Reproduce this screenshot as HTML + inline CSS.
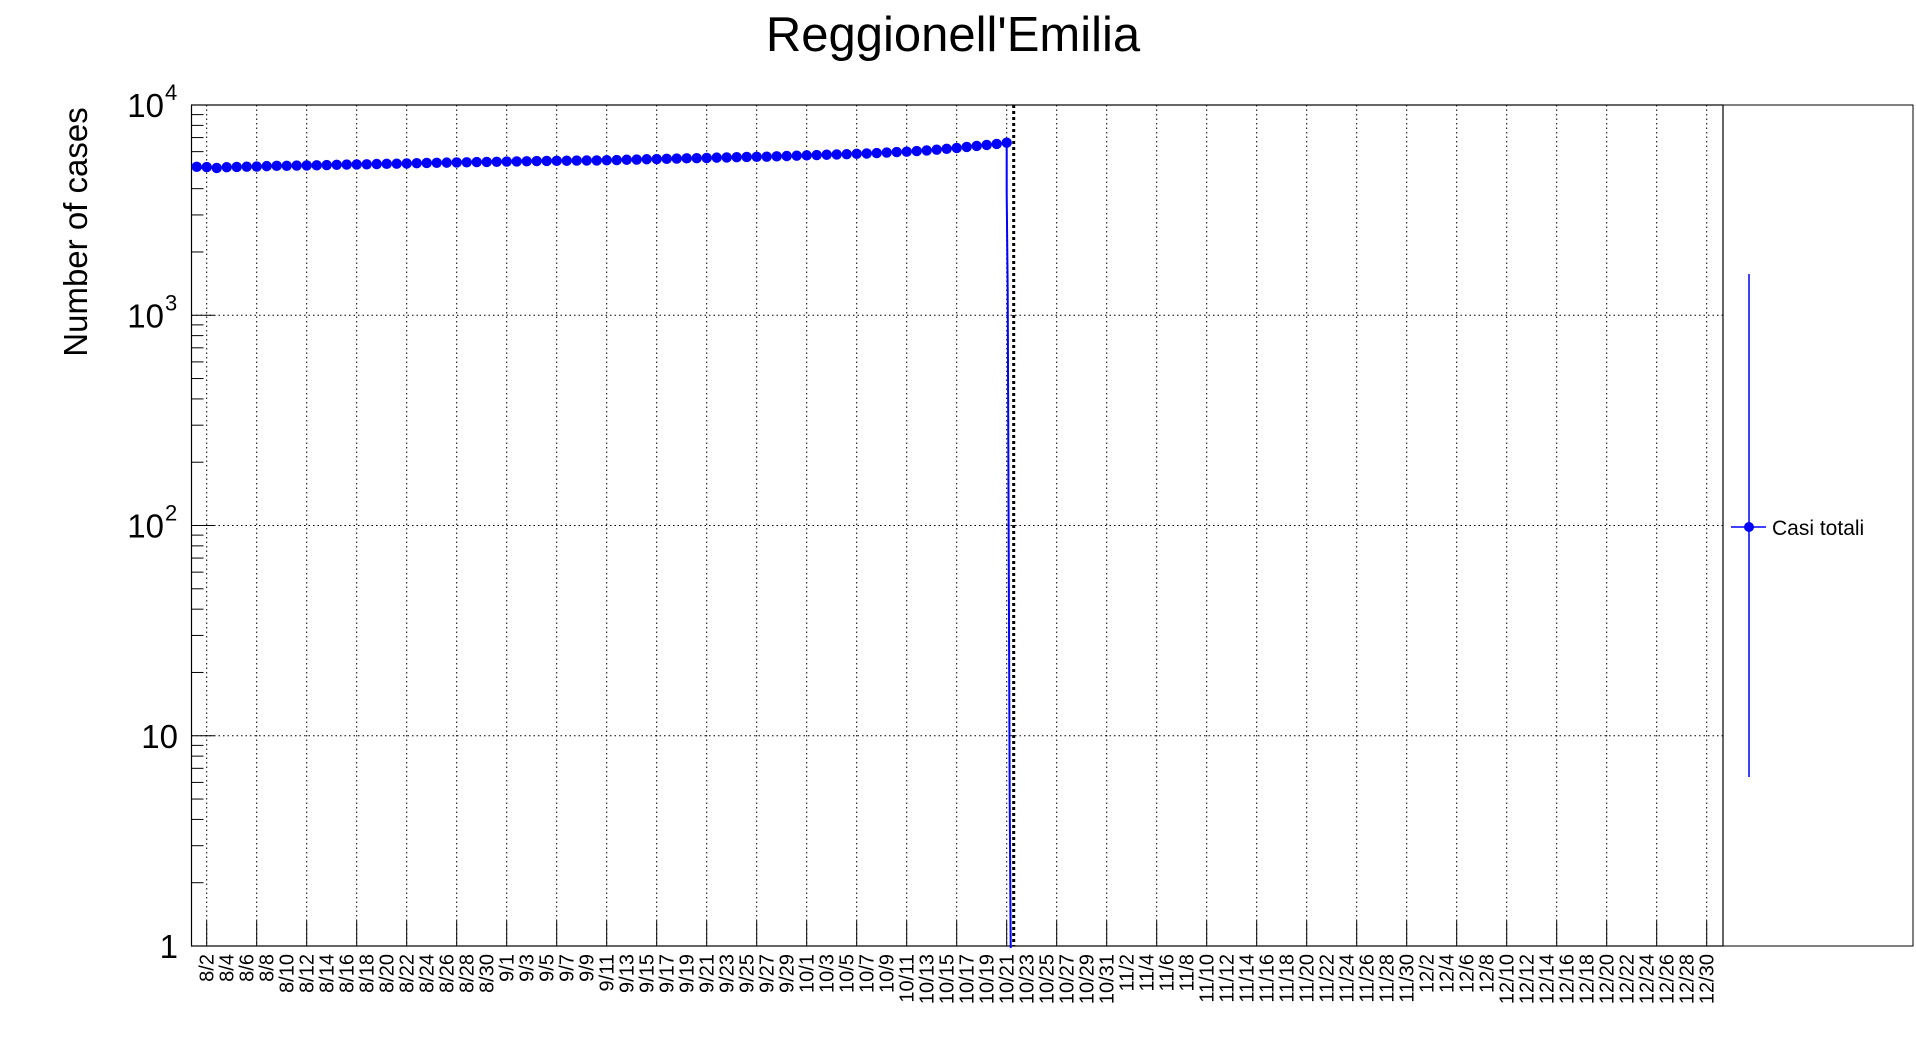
<!DOCTYPE html>
<html><head><meta charset="utf-8"><style>
html,body{margin:0;padding:0;background:#fff;}
svg{display:block;font-family:"Liberation Sans",Arial,sans-serif;}
</style></head><body>
<svg id="c" width="1916" height="1052" viewBox="0 0 1916 1052">
<rect x="0" y="0" width="1916" height="1052" fill="#fff"/>
<text x="953" y="51" font-size="49" text-anchor="middle">Reggionell'Emilia</text>
<text transform="translate(87,232) rotate(-90)" font-size="33" text-anchor="middle">Number of cases</text>
<g id="grid"></g><g id="axes"></g><g id="series"></g>
<rect x="1723" y="105" width="190" height="841" fill="none" stroke="#000" stroke-width="1"/>
<g>
<line x1="1749" y1="274" x2="1749" y2="777" stroke="#00f" stroke-width="1.5"/>
<line x1="1731" y1="527" x2="1766" y2="527" stroke="#00f" stroke-width="1.5"/>
<circle cx="1749" cy="527" r="5" fill="#00f"/>
<text x="1772" y="535" font-size="21">Casi totali</text>
</g>
</svg>
<script>
const values=[5080,5070,5020,5060,5075,5090,5095,5120,5135,5140,5150,5160,5165,5180,5195,5210,5215,5225,5240,5250,5258,5270,5285,5300,5310,5320,5330,5340,5355,5360,5370,5380,5390,5400,5410,5420,5425,5430,5440,5445,5450,5460,5470,5490,5500,5520,5530,5545,5560,5575,5585,5600,5620,5630,5645,5660,5670,5680,5700,5720,5740,5760,5780,5800,5820,5835,5860,5880,5910,5940,5970,6000,6040,6080,6130,6190,6250,6320,6390,6460,6530,6620];
const startDay=-1;
const decades=[1,10,100,1000,10000];
const decadeBase=["1","10","10","10","10"];
const decadeExp=["","","2","3","4"];
const markerDay=80;
const NS="http://www.w3.org/2000/svg";
const L=191.5,R=1723,T=105,B=946;
function xd(d){return 206.7+d*10;}
function yv(v){return B-(Math.log10(v))*((B-T)/4);}
function mk(tag,at,parent){const e=document.createElementNS(NS,tag);for(const k in at)e.setAttribute(k,at[k]);parent.appendChild(e);return e;}
const grid=document.getElementById('grid'),axes=document.getElementById('axes'),series=document.getElementById('series');
for(let d=0;xd(d)<R;d+=5){
 const g=mk('line',{x1:xd(d),x2:xd(d),y1:T,y2:B,stroke:'#000','stroke-width':1,'stroke-dasharray':'1.5,3'},grid);
 
 
 const t=mk('line',{x1:xd(d),x2:xd(d),y1:B,y2:B-25,stroke:'#000','stroke-width':1},axes);
 
 
}
decades.forEach((v,i)=>{
 const y=yv(v);
 if(i>0&&i<decades.length-1){const g=mk('line',{x1:L,x2:R,y1:y,y2:y,stroke:'#000','stroke-width':1,'stroke-dasharray':'1.5,3'},grid);
 
 }
 mk('line',{x1:L,x2:L+23,y1:y,y2:y,stroke:'#000','stroke-width':1},axes);
 const hasExp=decadeExp[i]!=="";
 const t=mk('text',{x:hasExp?164:178,y:y+12,'font-size':33,'text-anchor':'end'},axes);
 t.textContent=decadeBase[i];
 
 
 if(hasExp){const s=mk('text',{x:165,y:y-5,'font-size':22,'text-anchor':'start'},axes);s.textContent=decadeExp[i];
 
 }
 if(i<decades.length-1){for(let m=2;m<=9;m++){const ym=yv(v*m);mk('line',{x1:L,x2:L+12,y1:ym,y2:ym,stroke:'#000','stroke-width':1},axes);}}
});
const fr=mk('rect',{x:L,y:T,width:R-L,height:B-T,fill:'none',stroke:'#000','stroke-width':1.2},axes);


const base=new Date(2020,7,2);
for(let d=0;xd(d)<R-10;d+=2){
 const dt=new Date(base.getTime()+d*86400000);
 const lab=(dt.getMonth()+1)+'/'+dt.getDate();
 const t=mk('text',{transform:`translate(${xd(d)+7},954) rotate(-90)`,'font-size':20,'text-anchor':'end'},axes);
 t.textContent=lab;
 
 
}
let pts=values.map((v,i)=>xd(startDay+i).toFixed(1)+','+yv(v).toFixed(1));
const lastX=xd(startDay+values.length-1);
pts.push(lastX+','+yv(3800));pts.push((lastX+1)+','+yv(1300));pts.push((lastX+3)+','+yv(5));pts.push((lastX+4)+','+(B+2));
const pl=mk('polyline',{points:pts.join(' '),fill:'none',stroke:'#00f','stroke-width':2},series);


values.forEach((v,i)=>{
 const c=mk('circle',{cx:xd(startDay+i),cy:yv(v),r:5.2,fill:'#00f'},series);
 
 
});
const vm=mk('line',{x1:xd(markerDay)+7,x2:xd(markerDay)+7,y1:T,y2:B,stroke:'#000','stroke-width':3,'stroke-dasharray':'3,3'},series);


</script>
</body></html>
